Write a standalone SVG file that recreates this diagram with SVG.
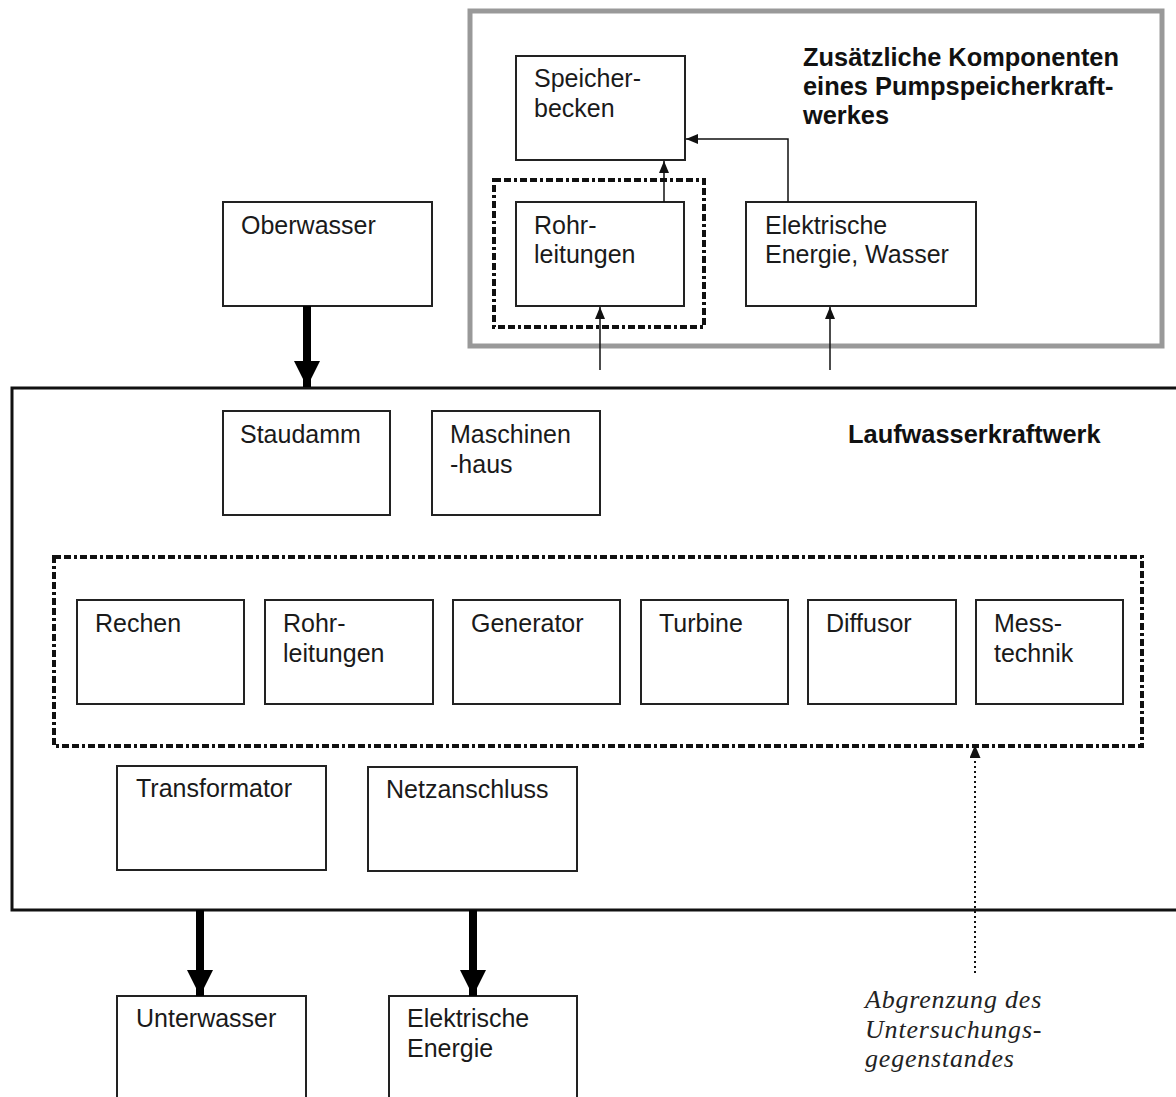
<svg xmlns="http://www.w3.org/2000/svg" width="1176" height="1097" viewBox="0 0 1176 1097">
  <style>
    .box { fill: #fff; stroke: #222; stroke-width: 2; }
    .lbl { font-family: "Liberation Sans", Arial, sans-serif; font-size: 25px; fill: #1a1a1a; }
    .ttl { font-family: "Liberation Sans", Arial, sans-serif; font-size: 25.4px; font-weight: bold; fill: #111; }
    .note { font-family: "Liberation Serif", "Times New Roman", serif; font-style: italic; font-size: 26px; letter-spacing: 0.8px; fill: #222; }
    .frame { fill: none; stroke: #111; stroke-width: 3; }
    .pump { fill: none; stroke: #999; stroke-width: 5; }
    .scope { fill: none; stroke: #111; stroke-width: 4; stroke-dasharray: 7 3 7 3 3 3; }
    .thin { fill: none; stroke: #111; stroke-width: 1.5; }
    .thick { fill: none; stroke: #000; stroke-width: 8; }
    .dots { fill: none; stroke: #111; stroke-width: 2; stroke-dasharray: 2 3; }
  </style>
  <defs>
    <marker id="headThin" markerUnits="userSpaceOnUse" markerWidth="12" markerHeight="10" refX="12" refY="5" orient="auto">
      <path d="M0,0 L12,5 L0,10 z" fill="#111"/>
    </marker>
    <marker id="headThick" markerUnits="userSpaceOnUse" markerWidth="26" markerHeight="27" refX="26" refY="13.5" orient="auto">
      <path d="M0,0.5 L26,13.5 L0,26.5 z" fill="#000"/>
    </marker>
    <marker id="headDot" markerUnits="userSpaceOnUse" markerWidth="13" markerHeight="11" refX="13" refY="5.5" orient="auto">
      <path d="M0,0 L13,5.5 L0,11 z" fill="#111"/>
    </marker>
  </defs>

  <rect width="1176" height="1097" fill="#fff"/>

  <!-- pumped-storage extension frame -->
  <g id="pumpspeicher">
    <rect class="pump" x="470" y="11" width="692" height="335"/>
    <text class="ttl" x="803" y="66">Zusätzliche Komponenten</text>
    <text class="ttl" x="803" y="95">eines Pumpspeicherkraft-</text>
    <text class="ttl" x="803" y="124">werkes</text>
  </g>

  <!-- run-of-river plant frame -->
  <g id="laufwasserkraftwerk">
    <rect class="frame" x="12" y="388" width="1180" height="522"/>
    <text class="ttl" x="848" y="443">Laufwasserkraftwerk</text>
  </g>

  <!-- scope boundaries -->
  <g id="abgrenzung">
    <rect class="scope" x="494" y="180" width="210" height="147"/>
    <rect class="scope" x="54" y="557" width="1088" height="189"/>
  </g>

  <g id="speicherbecken">
    <rect class="box" x="516" y="56" width="169" height="104"/>
    <text class="lbl" x="534" y="87">Speicher-</text>
    <text class="lbl" x="534" y="117">becken</text>
  </g>
  <g id="rohrleitungen-pump">
    <rect class="box" x="516" y="202" width="168" height="104"/>
    <text class="lbl" x="534" y="234">Rohr-</text>
    <text class="lbl" x="534" y="263">leitungen</text>
  </g>
  <g id="elektrische-energie-wasser">
    <rect class="box" x="746" y="202" width="230" height="104"/>
    <text class="lbl" x="765" y="234">Elektrische</text>
    <text class="lbl" x="765" y="263">Energie, Wasser</text>
  </g>
  <g id="oberwasser">
    <rect class="box" x="223" y="202" width="209" height="104"/>
    <text class="lbl" x="241" y="234">Oberwasser</text>
  </g>
  <g id="staudamm">
    <rect class="box" x="223" y="411" width="167" height="104"/>
    <text class="lbl" x="240" y="443">Staudamm</text>
  </g>
  <g id="maschinenhaus">
    <rect class="box" x="432" y="411" width="168" height="104"/>
    <text class="lbl" x="450" y="443">Maschinen</text>
    <text class="lbl" x="450" y="473">-haus</text>
  </g>
  <g id="rechen">
    <rect class="box" x="77" y="600" width="167" height="104"/>
    <text class="lbl" x="95" y="632">Rechen</text>
  </g>
  <g id="rohrleitungen">
    <rect class="box" x="265" y="600" width="168" height="104"/>
    <text class="lbl" x="283" y="632">Rohr-</text>
    <text class="lbl" x="283" y="662">leitungen</text>
  </g>
  <g id="generator">
    <rect class="box" x="453" y="600" width="167" height="104"/>
    <text class="lbl" x="471" y="632">Generator</text>
  </g>
  <g id="turbine">
    <rect class="box" x="641" y="600" width="147" height="104"/>
    <text class="lbl" x="659" y="632">Turbine</text>
  </g>
  <g id="diffusor">
    <rect class="box" x="808" y="600" width="148" height="104"/>
    <text class="lbl" x="826" y="632">Diffusor</text>
  </g>
  <g id="messtechnik">
    <rect class="box" x="976" y="600" width="147" height="104"/>
    <text class="lbl" x="994" y="632">Mess-</text>
    <text class="lbl" x="994" y="662">technik</text>
  </g>
  <g id="transformator">
    <rect class="box" x="117" y="766" width="209" height="104"/>
    <text class="lbl" x="136" y="797">Transformator</text>
  </g>
  <g id="netzanschluss">
    <rect class="box" x="368" y="767" width="209" height="104"/>
    <text class="lbl" x="386" y="798">Netzanschluss</text>
  </g>
  <g id="unterwasser">
    <rect class="box" x="117" y="996" width="189" height="120"/>
    <text class="lbl" x="136" y="1027">Unterwasser</text>
  </g>
  <g id="elektrische-energie">
    <rect class="box" x="389" y="996" width="188" height="120"/>
    <text class="lbl" x="407" y="1027">Elektrische</text>
    <text class="lbl" x="407" y="1057">Energie</text>
  </g>

  <g id="abgrenzung-label">
    <text class="note" x="865" y="1008">Abgrenzung des</text>
    <text class="note" x="865" y="1038">Untersuchungs-</text>
    <text class="note" x="865" y="1067">gegenstandes</text>
  </g>

  <!-- connectors -->
  <g id="connectors">
    <line class="thin" x1="664" y1="202" x2="664" y2="161" marker-end="url(#headThin)"/>
    <polyline class="thin" points="788,202 788,139 686,139" marker-end="url(#headThin)"/>
    <line class="thin" x1="600" y1="370" x2="600" y2="307" marker-end="url(#headThin)"/>
    <line class="thin" x1="830" y1="370" x2="830" y2="307" marker-end="url(#headThin)"/>
    <line class="thick" x1="307" y1="306" x2="307" y2="387" marker-end="url(#headThick)"/>
    <line class="thick" x1="200" y1="910" x2="200" y2="996" marker-end="url(#headThick)"/>
    <line class="thick" x1="473" y1="910" x2="473" y2="996" marker-end="url(#headThick)"/>
    <line class="dots" x1="975" y1="973" x2="975" y2="745" marker-end="url(#headDot)"/>
  </g>
</svg>
